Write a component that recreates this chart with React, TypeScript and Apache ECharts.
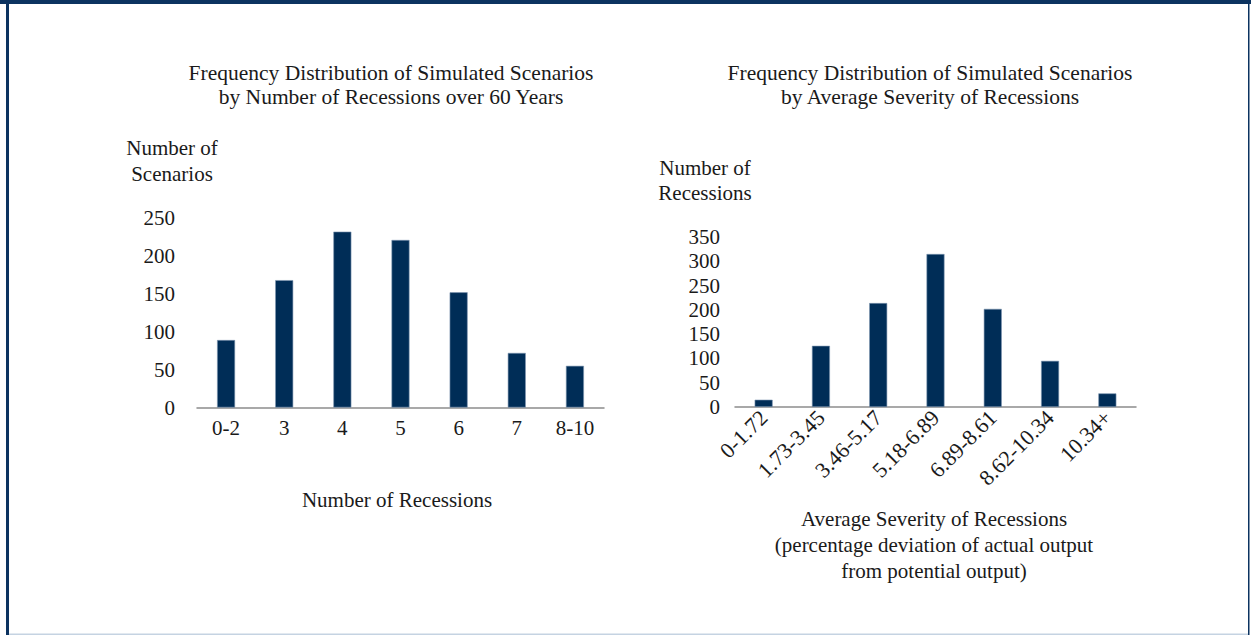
import React, { useEffect, useRef } from "react";
import * as echarts from "echarts";

const leftCategories = ["0-2", "3", "4", "5", "6", "7", "8-10"];
const leftValues = [89, 168, 232, 221, 152, 72, 55];
const rightCategories = ["0-1.72", "1.73-3.45", "3.46-5.17", "5.18-6.89", "6.89-8.61", "8.62-10.34", "10.34+"];
const rightValues = [15, 126, 214, 315, 202, 95, 28];

const FONT = "'Liberation Serif', 'DejaVu Serif', serif";
const NAVY = "#002d57";
const TXT = "#1a1a1a";

export default function App() {
  const ref = useRef<HTMLDivElement>(null);
  useEffect(() => {
    if (!ref.current) return;
    const chart = echarts.init(ref.current, null, { renderer: "svg" });
    const t = (text: string, x: number, y: number, size = 21) => ({
      type: "text",
      x,
      y,
      style: {
        text,
        textAlign: "center",
        textVerticalAlign: "middle",
        font: `${size}px ${FONT}`,
        fill: TXT,
      },
    });
    chart.setOption({
      animation: false,
      backgroundColor: "#ffffff",
      grid: [
        { left: 197, top: 218, width: 407, height: 189.5 },
        { left: 735, top: 237, width: 401, height: 170 },
      ],
      xAxis: [
        {
          gridIndex: 0,
          type: "category",
          data: leftCategories,
          axisLine: { lineStyle: { color: "#8c8c8c", width: 1.5 } },
          axisTick: { show: false },
          axisLabel: { color: TXT, fontFamily: FONT, fontSize: 21, margin: 10 },
        },
        {
          gridIndex: 1,
          type: "category",
          data: rightCategories,
          axisLine: { lineStyle: { color: "#8c8c8c", width: 1.5 } },
          axisTick: { show: false },
          axisLabel: { color: TXT, fontFamily: FONT, fontSize: 22, margin: 7, rotate: 45, interval: 0 },
        },
      ],
      yAxis: [
        {
          gridIndex: 0,
          type: "value",
          min: 0,
          max: 250,
          interval: 50,
          axisLine: { show: false },
          axisTick: { show: false },
          splitLine: { show: false },
          axisLabel: { color: TXT, fontFamily: FONT, fontSize: 21, margin: 22 },
        },
        {
          gridIndex: 1,
          type: "value",
          min: 0,
          max: 350,
          interval: 50,
          axisLine: { show: false },
          axisTick: { show: false },
          splitLine: { show: false },
          axisLabel: { color: TXT, fontFamily: FONT, fontSize: 21, margin: 15 },
        },
      ],
      series: [
        {
          type: "bar",
          xAxisIndex: 0,
          yAxisIndex: 0,
          data: leftValues,
          barWidth: 18,
          itemStyle: { color: NAVY, borderColor: "#7f97b2", borderWidth: 0.6 },
        },
        {
          type: "bar",
          xAxisIndex: 1,
          yAxisIndex: 1,
          data: rightValues,
          barWidth: 18,
          itemStyle: { color: NAVY, borderColor: "#7f97b2", borderWidth: 0.6 },
        },
      ],
      graphic: [
        { type: "rect", shape: { x: 0, y: 0, width: 1251, height: 4 }, style: { fill: "#0c3360" } },
        { type: "rect", shape: { x: 6, y: 0, width: 3, height: 635 }, style: { fill: "#0c3360" } },
        { type: "rect", shape: { x: 1248, y: 0, width: 1.5, height: 635 }, style: { fill: "#0c3360" } },
        { type: "rect", shape: { x: 9, y: 633.5, width: 1239, height: 1.5 }, style: { fill: "#c5d3e2" } },
        t("Frequency Distribution of Simulated Scenarios", 391, 73, 21.5),
        t("by Number of Recessions over 60 Years", 391, 97, 21.5),
        t("Frequency Distribution of Simulated Scenarios", 930, 73, 21.5),
        t("by Average Severity of Recessions", 930, 97, 21.5),
        t("Number of", 172, 148),
        t("Scenarios", 172, 174),
        t("Number of", 705, 168),
        t("Recessions", 705, 193),
        t("Number of Recessions", 397, 500),
        t("Average Severity of Recessions", 934, 519),
        t("(percentage deviation of actual output", 934, 545),
        t("from potential output)", 934, 571),
      ],
    });
    return () => chart.dispose();
  }, []);
  return (
    <div
      ref={ref}
      style={{ position: "fixed", left: 0, top: 0, width: 1251, height: 635 }}
    />
  );
}
